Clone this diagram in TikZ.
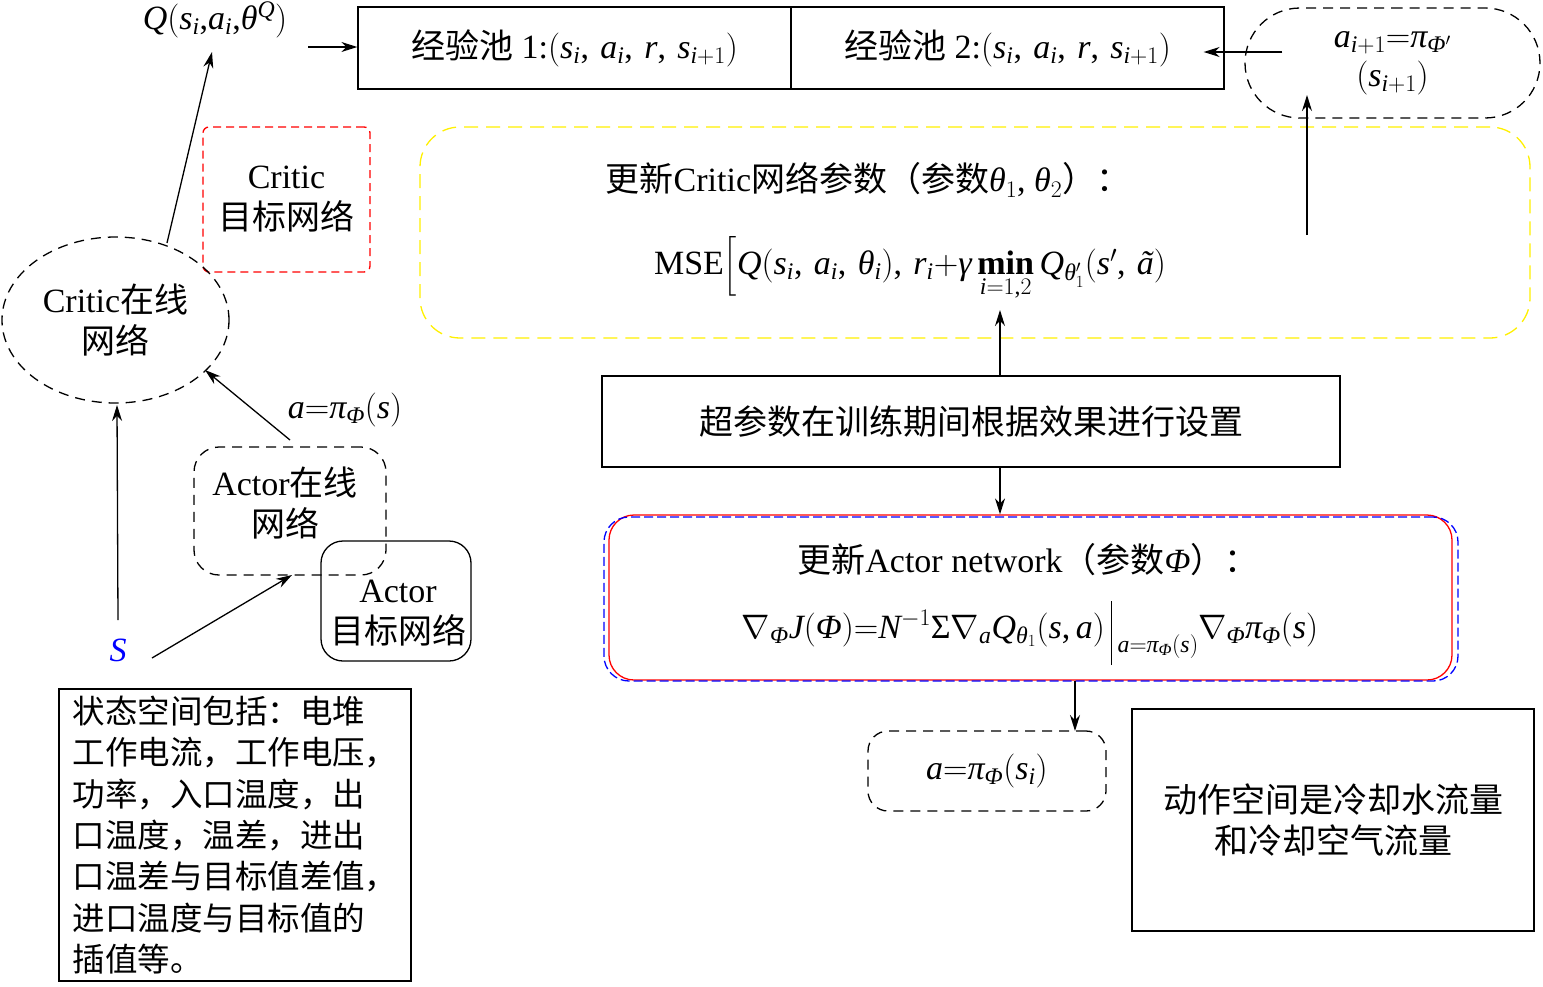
\RequirePackage{fix-cm}
\documentclass[tikz,border=0pt]{standalone}
\usepackage{amsmath}
\usepackage{fontspec}
\setmainfont{Liberation Serif}
\newfontfamily\cjk{Noto Sans CJK SC}
\usetikzlibrary{shapes.geometric,shapes.misc,arrows.meta}
\newcommand{\zh}[1]{{\cjk #1}}
\definecolor{myyellow}{RGB}{255,240,0}
\definecolor{myred}{RGB}{255,0,0}
\definecolor{myblue}{RGB}{0,0,255}
% Times-like math letters from Liberation Serif
\DeclareSymbolFont{tlet}{TU}{\rmdefault}{m}{it}
\DeclareSymbolFont{tup}{TU}{\rmdefault}{m}{n}
\newcount\mycnt
\mycnt=97
\loop \Umathcode\mycnt=0 \symtlet\mycnt \advance\mycnt by 1 \ifnum\mycnt<123 \repeat
\mycnt=65
\loop \Umathcode\mycnt=0 \symtlet\mycnt \advance\mycnt by 1 \ifnum\mycnt<91 \repeat
\mycnt=48
\loop \Umathcode\mycnt=0 \symtup\mycnt \advance\mycnt by 1 \ifnum\mycnt<58 \repeat
\Umathcode`(=4 \symtup `(
\Umathcode`)=5 \symtup `)
\Umathcode`,=6 \symtup `,
\Umathcode`==3 \symtup `=
\Umathcode`+=2 \symtup `+
\Umathchardef\mtheta=0 \symtlet "03B8
\Umathchardef\mpi=0 \symtlet "03C0
\Umathchardef\mgamma=0 \symtlet "03B3
\Umathchardef\mPhi=0 \symtlet "03A6
\Umathchardef\mSigma=0 \symtup "03A3
\Umathchardef\matil=0 \symtlet "00E3
\newcommand{\mmin}{\mathop{\text{\bfseries min}}\limits}
\begin{document}
\begin{tikzpicture}[x=1pt,y=-1pt,
  every node/.style={font=\fontsize{34}{41}\selectfont, inner sep=0pt, align=center},
  box/.style={draw, line width=1.3pt, rectangle},
  dsh/.style={draw, line width=1.3pt, dash pattern=on 10pt off 7pt},
  arr/.style={-{Stealth[length=16pt,width=10pt]}, line width=1.3pt}]
\useasboundingbox (0,0) rectangle (1543,986);

% experience pools
\node[box, minimum width=433, minimum height=82] (pool1) at (574.5,48)
  {\zh{经验池} 1:$(s_i,\,a_i,\,r,\,s_{i+1})$};
\node[box, minimum width=433, minimum height=82] (pool2) at (1007.5,48)
  {\zh{经验池} 2:$(s_i,\,a_i,\,r,\,s_{i+1})$};

% target action
\node[dsh, rounded rectangle, minimum width=295, minimum height=110] (ap) at (1392.5,63)
  {$a_{i+1}{=}\mpi_{\mPhi'}$\\[-2pt]$(s_{i+1})$};

% critic update
\node[draw=myyellow, line width=1.3pt, dash pattern=on 14pt off 8pt, rounded corners=40pt,
  minimum width=1110, minimum height=211] (crit) at (975,232.5) {};
\node (critT) at (868,180) {\zh{更新}Critic\zh{网络参数（参数}$\mtheta_1$, $\mtheta_2$\zh{）：}};
\node (mse) at (910,268) {MSE$\Bigl[Q(s_i,\,a_i,\,\mtheta_i),\,r_i{+}\mgamma\mmin_{i=1,2}Q_{\mtheta'_1}(s',\,\matil)$};

% hyper parameters
\node[box, minimum width=738, minimum height=91] (hyp) at (971,421.5)
  {\zh{超参数在训练期间根据效果进行设置}};

% actor update
\node[draw=myred, line width=1.3pt, rounded corners=25pt,
  minimum width=843, minimum height=165] (act) at (1030.5,597.5) {};
\node[draw=myblue, line width=1.3pt, dash pattern=on 9pt off 4pt, rounded corners=25pt,
  minimum width=854, minimum height=164] (actb) at (1031,599) {};
\node (actT) at (1028,560) {\zh{更新}Actor network\zh{（参数}$\mPhi$\zh{）：}};
\node[anchor=base] (grad) at (1030,638)
  {$\nabla_{\mPhi} J(\mPhi){=}N^{-1}\mSigma\nabla_{a}Q_{\mtheta_1}(s,a)\,\vrule height 37pt depth 27pt width 1.3pt\,\lower 14pt\hbox{$\scriptstyle a=\mpi_{\mPhi}(s)$}\nabla_{\mPhi}\mpi_{\mPhi}(s)$};

% output action
\node[dsh, rounded corners=20pt, minimum width=238, minimum height=80] (aout) at (987,771)
  {$a{=}\mpi_{\mPhi}(s_i)$};

% action space
\node[box, minimum width=402, minimum height=222] (aspace) at (1333,820)
  {\zh{动作空间是冷却水流量}\\\zh{和冷却空气流量}};

% left side
\node (qlab) at (215,20) {$Q(s_i{,}a_i{,}\mtheta^Q)$};
\node[draw=myred, line width=1.3pt, dash pattern=on 8pt off 5pt, rounded corners=6pt,
  minimum width=167, minimum height=145] (ctgt) at (286.5,199.5) {Critic\\\zh{目标网络}};
\node[dsh, ellipse, minimum width=227, minimum height=166] (con) at (115.5,320)
  {Critic\zh{在线}\\\zh{网络}};
\node[dsh, rounded corners=25pt, minimum width=192, minimum height=128] (aon) at (290,511) {};
\node (aonT) at (285,503.5) {Actor\zh{在线}\\\zh{网络}};
\node[box, rounded corners=22pt, minimum width=150, minimum height=120] (atgt) at (396,601) {};
\node (atgtT) at (398,613) {Actor\\\zh{目标网络}};
\node[text=myblue] (s) at (118,650) {$S$};
\node (alab) at (345,410) {$a{=}\mpi_{\mPhi}(s)$};
\node[box, minimum width=352, minimum height=292, align=left,
  font=\fontsize{32.5}{41.3}\selectfont\cjk] (state) at (235,835)
  {状态空间包括：电堆\\
   工作电流，工作电压，\\
   功率，入口温度，出\\
   口温度，温差，进出\\
   口温差与目标值差值，\\
   进口温度与目标值的\\
   插值等。};

% connectors
\coordinate (qtail) at (308,47);
\draw[arr] (qtail) -- (pool1.west |- qtail);
\draw[arr] ([xshift=38pt,yshift=11pt]ap.west) -- ([xshift=-21pt,yshift=-4pt]pool2.east);
\coordinate (c1) at (1307,235);
\coordinate (apin) at (1307,95);
\draw[arr] (c1) -- (apin);
\coordinate (critin) at (1000,310);
\draw[arr] (hyp.north -| critin) -- (critin);
\draw[arr] (hyp.south -| critin) -- (act.north -| critin);
\coordinate (aoutx) at (1075,731);
\draw[arr] (act.south -| aoutx) -- (aoutx);
\coordinate (ctail) at (167,243);
\coordinate (qhead) at (212,52);
\draw[arr] (ctail) -- (qhead);
\coordinate (stop) at (118,620);
\coordinate (conin) at (117,405);
\draw[arr] (stop) -- (conin);
\coordinate (atail) at (290,440);
\coordinate (conin2) at (205,370);
\draw[arr] (atail) -- (conin2);
\coordinate (sr) at (152,658);
\coordinate (aonin) at (292,575);
\draw[arr] (sr) -- (aonin);
\end{tikzpicture}
\end{document}
